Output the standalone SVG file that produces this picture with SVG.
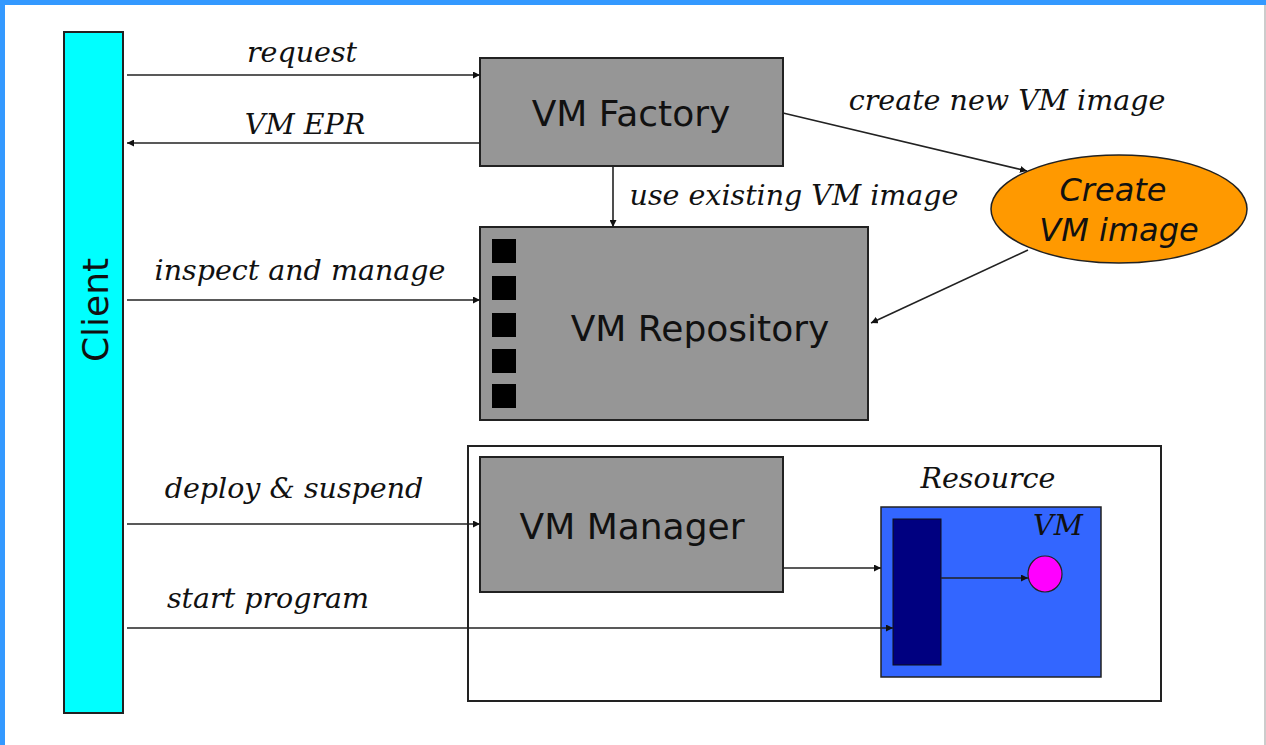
<svg xmlns="http://www.w3.org/2000/svg" width="1266" height="745" viewBox="0 0 1266 745">
<style>
.box{fill:#969696;stroke:#222;stroke-width:2}
.lbl{font-family:"DejaVu Sans",Verdana,sans-serif;font-size:36px;fill:#111;text-anchor:middle}
.it{font-family:"DejaVu Serif","Liberation Serif",serif;font-style:italic;font-size:28.5px;fill:#111;text-anchor:middle}
.ln{stroke:#222;stroke-width:1.6;fill:none;marker-end:url(#ah)}
.sq{fill:#000}
</style>
<defs>
<marker id="ah" viewBox="0 0 10 10" refX="10" refY="5" markerWidth="7" markerHeight="7" markerUnits="userSpaceOnUse" orient="auto"><path d="M0,0 L10,5 L0,10 z" fill="#111"/></marker>
<marker id="ahs" viewBox="0 0 10 10" refX="10" refY="5" markerWidth="10" markerHeight="8" markerUnits="userSpaceOnUse" orient="auto"><path d="M0,0 L10,5 L0,10 z" fill="#111"/></marker>
</defs>
<rect x="0" y="0" width="1266" height="745" fill="#fff"/>
<rect x="0" y="0" width="1266" height="5" fill="#3399ff"/>
<rect x="0" y="0" width="5" height="745" fill="#3399ff"/>
<line x1="1265" y1="5" x2="1265" y2="745" stroke="#999" stroke-width="1"/>

<g id="container">
<rect x="468" y="446" width="693" height="255" fill="#fff" stroke="#222" stroke-width="2"/>
<text class="it" x="988" y="488">Resource</text>
</g>

<g id="client">
<rect x="64" y="32" width="59" height="681" fill="#00ffff" stroke="#222" stroke-width="2"/>
<text class="lbl" transform="translate(108,310) rotate(-90)">Client</text>
</g>

<g id="vm-factory">
<rect class="box" x="480" y="58" width="303" height="108"/>
<text class="lbl" x="631" y="126">VM Factory</text>
</g>

<g id="vm-repository">
<rect class="box" x="480" y="227" width="388" height="193"/>
<rect class="sq" x="492" y="239" width="24" height="24"/>
<rect class="sq" x="492" y="276" width="24" height="24"/>
<rect class="sq" x="492" y="313" width="24" height="24"/>
<rect class="sq" x="492" y="349" width="24" height="24"/>
<rect class="sq" x="492" y="384" width="24" height="24"/>
<text class="lbl" x="700" y="341">VM Repository</text>
</g>

<g id="create-vm-image">
<ellipse cx="1119" cy="209" rx="128" ry="54" fill="#ff9900" stroke="#222" stroke-width="1.5"/>
<text class="lbl" x="1113" y="201" style="font-style:italic;font-size:32px">Create</text>
<text class="lbl" x="1119" y="241" style="font-style:italic;font-size:32px">VM image</text>
</g>

<g id="vm-manager">
<rect class="box" x="480" y="457" width="303" height="135"/>
<text class="lbl" x="632" y="539">VM Manager</text>
</g>

<g id="resource">
<rect x="881" y="507" width="220" height="170" fill="#3366ff" stroke="#222" stroke-width="1.5"/>
<text class="it" x="1058" y="535">VM</text>
<rect x="893" y="519" width="48" height="146" fill="#000080" stroke="#111" stroke-width="1"/>
<ellipse cx="1045" cy="574" rx="17" ry="18" fill="#ff00ff" stroke="#222" stroke-width="1.2"/>
</g>

<g id="connectors">
<line class="ln" x1="127" y1="75" x2="480" y2="75"/>
<line class="ln" x1="480" y1="143" x2="127" y2="143" marker-end="url(#ahs)"/>
<line class="ln" x1="613" y1="166" x2="613" y2="227"/>
<line class="ln" x1="127" y1="300" x2="480" y2="300"/>
<line class="ln" x1="783" y1="113" x2="1027" y2="171"/>
<line class="ln" x1="1028" y1="250" x2="871" y2="323"/>
<line class="ln" x1="127" y1="524" x2="480" y2="524"/>
<line class="ln" x1="783" y1="568" x2="881" y2="568"/>
<line class="ln" x1="941" y1="578" x2="1028" y2="578"/>
<line class="ln" x1="127" y1="628" x2="893" y2="628"/>
<text class="it" x="302" y="62">request</text>
<text class="it" x="305" y="134">VM EPR</text>
<text class="it" x="1007" y="110">create new VM image</text>
<text class="it" x="794" y="205">use existing VM image</text>
<text class="it" x="300" y="280">inspect and manage</text>
<text class="it" x="294" y="498">deploy &amp; suspend</text>
<text class="it" x="268" y="608">start program</text>
</g>
</svg>
